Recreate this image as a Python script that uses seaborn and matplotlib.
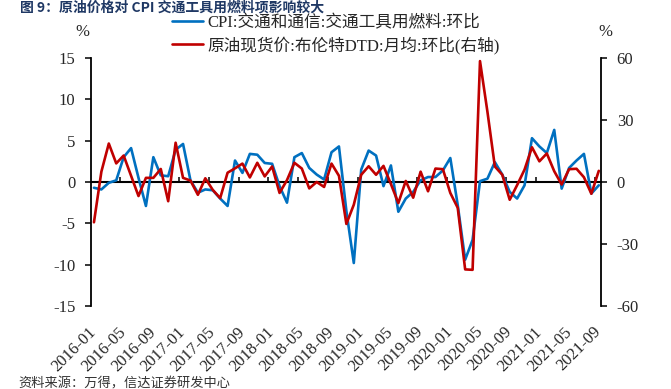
import numpy as np
import pandas as pd
import matplotlib
matplotlib.use("Agg")
import matplotlib.pyplot as plt
import seaborn as sns

# ---------------- data ----------------
months = list(pd.date_range("2016-01-01", periods=69, freq="MS").strftime("%Y-%m"))

cpi_fuel = [-0.7, -0.9, -0.1, 0.2, 3.0, 4.1, 0.5, -2.9, 3.0, 0.8,
            0.7, 3.9, 4.6, 0.2, -1.3, -0.9, -1.0, -2.0, -2.9, 2.6,
            1.1, 3.4, 3.3, 2.3, 2.2, -0.5, -2.5, 3.0, 3.5, 1.7,
            0.9, 0.3, 3.6, 4.3, -3.5, -9.8, 1.5, 3.8, 3.2, -0.5,
            2.0, -3.6, -2.0, -1.2, 0.2, 0.6, 0.6, 1.4, 2.9, -2.8,
            -9.4, -7.0, 0.1, 0.4, 2.4, 0.9, -1.2, -2.0, -0.4, 5.3,
            4.3, 3.5, 6.3, -0.8, 1.7, 2.6, 3.4, -1.4, -0.4]

brent_mom = [-19.5, 5.0, 18.6, 9.0, 12.8, 3.0, -6.8, 2.0, 2.0, 6.3,
             -9.3, 19.0, 2.0, 0.7, -6.2, 1.8, -3.8, -7.8, 4.5, 6.6,
             8.9, 2.2, 9.3, 2.7, 7.5, -5.3, 0.9, 9.3, 6.5, -3.1,
             0.0, -2.4, 8.9, 3.0, -20.3, -11.0, 3.5, 7.6, 3.5, 7.8,
             -1.0, -10.2, 0.5, -7.6, 5.0, -4.5, 6.5, 6.2, -5.3, -12.5,
             -42.3, -42.5, 58.5, 34.0, 7.5, 3.5, -8.6, -1.5, 6.0, 16.8,
             10.0, 13.8, 5.2, -1.2, 6.2, 6.4, 2.3, -5.7, 5.4]

label_cpi = "CPI:交通和通信:交通工具用燃料:环比"
label_oil = "原油现货价:布伦特DTD:月均:环比(右轴)"
title_text = "图 9：原油价格对 CPI 交通工具用燃料项影响较大"
source_text = "资料来源：万得，信达证券研发中心"

left_ticks = [-15, -10, -5, 0, 5, 10, 15]
right_ticks = [-60, -30, 0, 30, 60]

df = pd.DataFrame({"idx": np.arange(len(months)), "month": months,
                   "cpi": cpi_fuel, "oil": brent_mom})

# ---------------- style ----------------
sns.set_theme(style="white")
plt.rcParams["font.family"] = ["Liberation Serif", "Noto Sans CJK SC", "DejaVu Sans"]
plt.rcParams["axes.unicode_minus"] = False

BLUE = "#0070C0"
RED = "#C00000"

fig = plt.figure(figsize=(6.71, 3.89), dpi=100)
ax = fig.add_axes([0.1356, 0.2134, 0.7601, 0.6375])
ax2 = ax.twinx()

sns.lineplot(data=df, x="idx", y="cpi", ax=ax, color=BLUE, linewidth=1.9, label=label_cpi, legend=False)
sns.lineplot(data=df, x="idx", y="oil", ax=ax2, color=RED, linewidth=1.9, label=label_oil, legend=False)

ax.set_xlim(-0.4, 68.3)
ax.set_ylim(-15, 15)
ax2.set_ylim(-60, 60)
ax.set_yticks(left_ticks)
ax2.set_yticks(right_ticks)
ax.set_xlabel("")
ax.set_ylabel("")
ax2.set_ylabel("")

for a in (ax, ax2):
    for s in a.spines.values():
        s.set_visible(False)
    a.grid(False)
ax.spines["left"].set_visible(True)
ax.spines["left"].set_color("black")
ax.spines["left"].set_linewidth(1.3)
ax2.spines["right"].set_visible(True)
ax2.spines["right"].set_color("black")
ax2.spines["right"].set_linewidth(1.3)

ax.tick_params(axis="y", direction="out", length=4.3, width=1.1, color="black",
               labelsize=12, pad=7, left=True)
ax2.tick_params(axis="y", direction="out", length=4.3, width=1.1, color="black",
                labelsize=12, pad=7, right=True)

# date labels at the bottom
ax.set_xticks(df["idx"][::4], labels=df["month"][::4])
ax.tick_params(axis="x", length=0, pad=17, labelsize=12)
for t in ax.get_xticklabels():
    t.set_rotation(45)
    t.set_ha("right")
    t.set_va("center")
    t.set_rotation_mode("anchor")

# zero line with small ticks between categories
minor_pos = np.arange(3.5, 68, 4)
sec = ax.secondary_xaxis(0.5)
sec.set_xticks(minor_pos, labels=[""] * len(minor_pos))
sec.tick_params(axis="x", direction="out", length=3.5, width=1.1, color="black")
for name, s in sec.spines.items():
    s.set_visible(name == "bottom")
sec.spines["bottom"].set_linewidth(1.5)
sec.spines["bottom"].set_color("black")

# unit labels
fig.text(82 / 671, 1 - 32 / 389, "%", fontsize=12, ha="center", va="center")
fig.text(605 / 671, 1 - 32 / 389, "%", fontsize=12, ha="center", va="center")

# legend
h1, l1 = ax.get_legend_handles_labels()
h2, l2 = ax2.get_legend_handles_labels()
fig.legend(h1 + h2, l1 + l2, loc="upper left", bbox_to_anchor=(172 / 671, 1 - 15 / 389),
           frameon=False, fontsize=12, handlelength=1.85, handletextpad=0.25,
           labelspacing=0.3, borderpad=0, borderaxespad=0)

# title and source
fig.text(20 / 671, 1 - 7 / 389, title_text, fontsize=10, fontweight="bold",
         color="#1F3864", ha="left", va="center", family=["Noto Sans CJK SC"])
fig.text(18 / 671, 1 - 384 / 389, source_text, fontsize=9.5, color="#333333",
         ha="left", va="center", style="italic", family=["Noto Sans CJK SC"])

fig.savefig("out.png", dpi=100)
